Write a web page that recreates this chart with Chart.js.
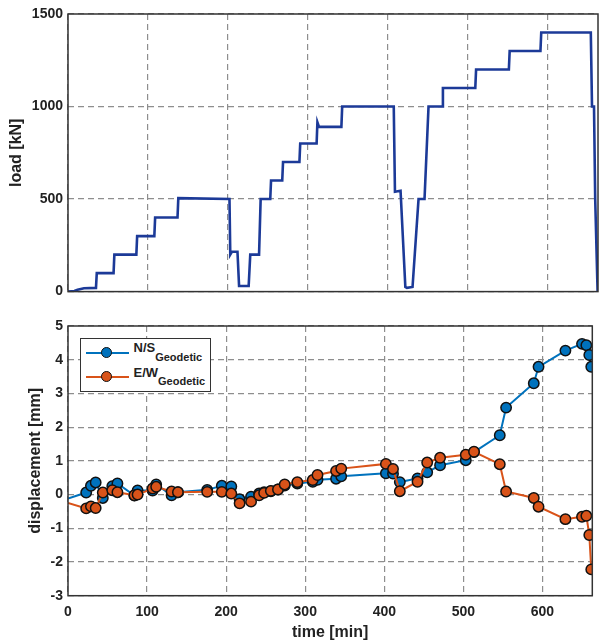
<!DOCTYPE html>
<html>
<head>
<meta charset="utf-8">
<script src="https://cdn.jsdelivr.net/npm/chart.js@4.4.1/dist/chart.umd.min.js"></script>
<style>
  body { margin: 0; background: #fff; }
  #page { position: relative; width: 599px; height: 644px; font-family: "Liberation Sans", Arial, Helvetica, sans-serif; }
  #page canvas { position: absolute; left: 0; }
  #legend { position: absolute; left: 80px; top: 338px; width: 131px; height: 54px; box-sizing: border-box; border: 1.5px solid #333; background: #fff; }
  .row { position: absolute; left: 0; width: 100%; height: 0; }
  .row .ln { position: absolute; left: 4.5px; width: 43.5px; top: -1px; height: 2px; }
  .row .dot { position: absolute; left: 20px; top: -6px; width: 9px; height: 9px; border: 1.5px solid #111; border-radius: 50%; }
  .row .txt { position: absolute; left: 52.5px; top: -11.5px; font-weight: bold; font-size: 13px; line-height: 13px; color: #222; white-space: nowrap; }
  .row .txt sub { font-size: 11px; vertical-align: baseline; position: relative; top: 8.5px; }
</style>
</head>
<body>
<div id="page">
  <canvas id="loadChart" width="599" height="305" style="top:0"></canvas>
  <canvas id="dispChart" width="599" height="339" style="top:305px"></canvas>
  <div id="legend">
    <div class="row" style="top:13.8px">
      <div class="ln" style="background:#0072BD"></div>
      <div class="dot" style="background:#0072BD"></div>
      <span class="txt">N/S<sub>Geodetic</sub></span>
    </div>
    <div class="row" style="top:38.2px">
      <div class="ln" style="background:#D95319"></div>
      <div class="dot" style="background:#D95319"></div>
      <span class="txt">E/W<sub>Geodetic</sub></span>
    </div>
  </div>
</div>
<script>
// load curve, top panel (time in min, load in kN)
const loadTime  = [0, 8, 12, 20, 35, 36, 57, 58, 85.5, 86.5, 108, 109, 137, 138, 202, 203, 205, 212, 214, 226, 228, 239, 241,
                   253, 254, 268, 269, 289.5, 290.5, 311, 312, 314, 342, 343, 407.5, 409, 416, 422, 424, 431, 438.5, 446,
                   451, 468, 469, 509.5, 510.5, 551.5, 552.5, 591, 592, 654, 655.5, 658, 659.5, 662.5];
const loadValue = [0, 3, 10, 18, 20, 100, 100, 200, 200, 300, 300, 400, 400, 505, 500, 200, 215, 215, 30, 30, 200, 200, 500,
                   500, 600, 600, 700, 700, 800, 800, 915, 890, 890, 1000, 1000, 540, 545, 25, 20, 25, 500, 500,
                   1000, 1000, 1100, 1100, 1200, 1200, 1300, 1300, 1400, 1400, 1000, 1000, 500, 0];

// geodetic displacements, bottom panel (mm)
const epochTime = [0, 23, 29, 35, 44, 56, 62.5, 84, 88, 107, 111.5, 131, 139, 176, 194.5, 206.5, 217, 231.5, 241.7, 248,
                   256.5, 265.5, 274, 290, 309.5, 315.5, 339, 345.5, 402, 411, 419.6, 442, 454.2, 470.5, 503, 513.4,
                   546, 554, 589, 595, 629, 650, 655.5, 659.2, 661.7];
const nsDisp = [-0.12, 0.06, 0.26, 0.36, -0.1, 0.25, 0.33, -0.03, 0.12, 0.12, 0.3, -0.02, 0.07, 0.14, 0.26, 0.24, -0.14,
                -0.06, 0.03, 0.07, 0.1, 0.15, 0.27, 0.33, 0.38, 0.44, 0.47, 0.54, 0.63, 0.62, 0.37, 0.48, 0.66, 0.87,
                1.02, 1.26, 1.76, 2.58, 3.3, 3.79, 4.27, 4.47, 4.43, 4.14, 3.79];
const ewDisp = [-0.25, -0.41, -0.35, -0.4, 0.06, 0.13, 0.07, -0.02, 0.0, 0.18, 0.23, 0.09, 0.07, 0.08, 0.08, 0.03, -0.26,
                -0.21, -0.02, 0.05, 0.11, 0.15, 0.3, 0.37, 0.43, 0.58, 0.7, 0.77, 0.91, 0.76, 0.1, 0.38, 0.95, 1.09,
                1.18, 1.27, 0.9, 0.09, -0.1, -0.36, -0.73, -0.66, -0.63, -1.2, -2.22];

// axes
const timeTicks = [0, 100, 200, 300, 400, 500, 600];
const loadTicks = [0, 500, 1000, 1500];
const dispTicks = [-3, -2, -1, 0, 1, 2, 3, 4, 5];
const timeMax = 663;

const textColor = '#222';
const tickFont = { family: '"Liberation Sans", Arial, sans-serif', size: 14, weight: 'bold' };
const titleFont = { family: '"Liberation Sans", Arial, sans-serif', size: 16, weight: 'bold' };
const grid = { color: '#8e8e8e', lineWidth: 1.2, drawTicks: false };
const border = { display: false, dash: [6, 4] };

function setTicks(values) {
    return axis => { axis.ticks = values.map(v => ({ value: v })); };
}

// solid box around the plot area, like the matlab axes
const frame = {
    id: 'frame',
    afterDraw(chart) {
        const a = chart.chartArea;
        const ctx = chart.ctx;
        ctx.save();
        ctx.strokeStyle = '#333';
        ctx.lineWidth = 1.5;
        ctx.strokeRect(a.left, a.top, a.right - a.left, a.bottom - a.top);
        ctx.restore();
    }
};

new Chart(document.getElementById('loadChart'), {
    type: 'line',
    data: {
        datasets: [{
            data: loadTime.map((t, i) => ({ x: t, y: loadValue[i] })),
            borderColor: '#1c3a98',
            borderWidth: 2.6,
            pointRadius: 0,
            tension: 0
        }]
    },
    options: {
        responsive: false,
        animation: false,
        layout: { padding: { top: 14, right: 1 } },
        plugins: { legend: { display: false }, tooltip: { enabled: false } },
        scales: {
            x: {
                type: 'linear', min: 0, max: timeMax,
                afterBuildTicks: setTicks(timeTicks),
                afterFit: axis => { axis.height = 12; },
                ticks: { display: false },
                grid: grid, border: border
            },
            y: {
                min: 0, max: 1500,
                afterBuildTicks: setTicks(loadTicks),
                afterFit: axis => { axis.width = 68; },
                ticks: { font: tickFont, color: textColor, padding: 5, callback: v => String(v) },
                title: { display: true, text: 'load [kN]', font: titleFont, color: textColor, padding: { top: 7, bottom: 0 } },
                grid: grid, border: border
            }
        }
    },
    plugins: [frame]
});

new Chart(document.getElementById('dispChart'), {
    type: 'line',
    data: {
        datasets: [
            {
                label: 'E/W Geodetic',
                data: epochTime.map((t, i) => ({ x: t, y: ewDisp[i] })),
                borderColor: '#D95319',
                backgroundColor: '#D95319',
                pointBackgroundColor: '#D95319',
                pointBorderColor: '#111',
                pointBorderWidth: 1.5,
                pointRadius: c => c.dataIndex === 0 ? 0 : 5.2,
                borderWidth: 2,
                tension: 0
            },
            {
                label: 'N/S Geodetic',
                data: epochTime.map((t, i) => ({ x: t, y: nsDisp[i] })),
                borderColor: '#0072BD',
                backgroundColor: '#0072BD',
                pointBackgroundColor: '#0072BD',
                pointBorderColor: '#111',
                pointBorderWidth: 1.5,
                pointRadius: c => c.dataIndex === 0 ? 0 : 5.2,
                borderWidth: 2,
                tension: 0
            }
        ]
    },
    options: {
        responsive: false,
        animation: false,
        layout: { padding: { top: 21, right: 1 } },
        plugins: { legend: { display: false }, tooltip: { enabled: false } },
        scales: {
            x: {
                type: 'linear', min: 0, max: timeMax,
                afterBuildTicks: setTicks(timeTicks),
                afterFit: axis => { axis.height = 48.3; },
                ticks: { font: tickFont, color: textColor, padding: 8, autoSkip: false, maxRotation: 0, callback: v => String(v) },
                title: { display: true, text: 'time [min]', font: titleFont, color: textColor, padding: { top: 0, bottom: 2 } },
                grid: grid, border: border
            },
            y: {
                min: -3, max: 5,
                afterBuildTicks: setTicks(dispTicks),
                afterFit: axis => { axis.width = 68; },
                ticks: { font: tickFont, color: textColor, padding: 5, callback: v => String(v) },
                title: { display: true, text: 'displacement [mm]', font: titleFont, color: textColor, padding: { top: 26, bottom: 0 } },
                grid: grid, border: border
            }
        }
    },
    plugins: [frame]
});
</script>
</body>
</html>
